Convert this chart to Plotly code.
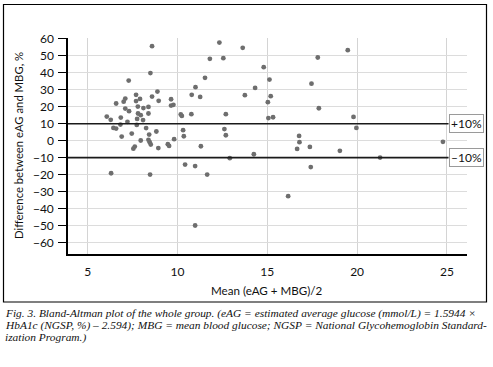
import plotly.graph_objects as go

# Bland-Altman data: mean (eAG + MBG)/2 and difference (%)
mean_vals = [
    6.06, 6.28, 6.30, 6.58, 6.43, 6.58, 6.82, 6.84, 6.89, 7.00,
    7.09, 7.09, 7.21, 7.28, 7.30, 7.45, 7.54, 7.62, 7.69, 7.69,
    7.73, 7.75, 7.79, 7.80, 7.91, 7.95, 7.95, 8.08, 8.10, 8.25,
    8.38, 8.38, 8.42, 8.38, 8.45, 8.51, 8.47, 8.49, 8.58, 8.58,
    8.82, 8.88, 8.93, 8.95, 9.46, 9.53, 9.64, 9.64, 9.77, 9.81,
    10.18, 10.24, 10.31, 10.35, 10.42, 10.77, 10.79, 10.98, 10.98, 11.00,
    11.26, 11.30, 11.53, 11.65, 11.80, 12.33, 12.55, 12.61, 12.69, 12.69,
    12.91, 13.63, 13.75, 14.25, 14.32, 14.80, 15.03, 15.06, 15.12, 15.19,
    15.32, 16.16, 16.66, 16.77, 16.79, 17.37, 17.42, 17.46, 17.81, 17.87,
    19.04, 19.48, 19.80, 19.96, 21.28, 24.78,
]
diff_vals = [
    14.2, 12.3, -19.2, 21.9, 7.5, 7.1, 9.5, 13.6, 2.4, 23.0,
    24.8, 18.9, 11.1, 35.4, 17.4, 4.2, -4.7, -3.5, 27.0, 23.3,
    9.3, 12.8, 20.1, 16.0, 24.6, 15.0, 0.1, 12.1, 19.2, 7.4,
    19.9, 16.0, 3.6, 0.5, -0.9, -2.3, -20.0, 39.8, 55.7, 26.0,
    5.4, 28.9, -4.4, 23.5, -2.1, -3.1, 24.4, 20.7, 21.1, 0.9,
    15.4, 14.6, 6.2, 2.6, -14.1, 15.6, 27.0, -15.0, -50.0, 31.5,
    25.8, -3.3, 37.0, -20.0, 48.2, 57.8, 48.6, 6.8, 15.6, 3.2,
    -10.3, 54.7, 26.8, -8.0, 31.1, 43.3, 22.7, 13.3, 36.0, 26.2,
    13.8, -32.7, -4.9, 2.8, -0.9, -3.7, -15.6, 33.6, 49.0, 19.1,
    -6.0, 53.3, 14.0, 7.5, -10.0, -0.7,
]

limit_values = [10, -10]
limit_labels = ["+10%", "\u201310%"]
x_ticks = [5, 10, 15, 20, 25]
y_ticks = [60, 50, 40, 30, 20, 10, 0, -10, -20, -30, -40, -50, -60]

x_title = "Mean (eAG + MBG)/2"
y_title = "Difference between eAG and MBG, %"
caption_lines = [
    "Fig. 3. Bland-Altman plot of the whole group. (eAG = estimated average glucose (mmol/L) = 1.5944 \u00d7",
    "HbA1c (NGSP, %) \u2013 2.594); MBG = mean blood glucose; NGSP = National Glycohemoglobin Standard-",
    "ization Program.)",
]

FONT = "Lato"
W, H = 493, 367
L, R, T, B = 68, 26, 38, 113
pw, ph = W - L - R, H - T - B


def px(xp):
    return (xp - L) / pw


def py(yp):
    return (H - B - yp) / ph


fig = go.Figure()
fig.add_trace(go.Scatter(
    x=mean_vals, y=diff_vals, mode="markers",
    marker=dict(color="#6e6e6e", size=4.8),
    hoverinfo="skip", showlegend=False,
))

shapes = []
annotations = []
for v, lab in zip(limit_values, limit_labels):
    shapes.append(dict(type="line", xref="paper", yref="y",
                       x0=0, x1=px(448.5), y0=v, y1=v,
                       line=dict(color="#1a1a1a", width=1.6)))
    annotations.append(dict(xref="paper", yref="y", x=px(449), y=v,
                            xanchor="left", yanchor="middle", text=lab,
                            showarrow=False,
                            font=dict(family=FONT, size=12, color="#111"),
                            bordercolor="#9a9a9a", borderwidth=1, borderpad=1,
                            bgcolor="white"))

# outer frame
shapes.append(dict(type="rect", xref="paper", yref="paper",
                   x0=px(3.5), x1=px(486.5), y0=py(4.5), y1=py(302),
                   line=dict(color="black", width=1.2), layer="below"))

annotations.append(dict(xref="paper", yref="paper", x=px(267), y=py(290),
                        text=x_title, showarrow=False, xanchor="center", yanchor="middle",
                        font=dict(family=FONT, size=11.6, color="#111")))
annotations.append(dict(xref="paper", yref="paper", x=px(18), y=py(146),
                        text=y_title, showarrow=False, textangle=-90,
                        xanchor="center", yanchor="middle",
                        font=dict(family=FONT, size=11.3, color="#111")))
for i, line in enumerate(caption_lines):
    annotations.append(dict(xref="paper", yref="paper", x=px(3), y=py(313.5 + 12.2 * i),
                            text="<i>" + line + "</i>", showarrow=False,
                            xanchor="left", yanchor="middle",
                            font=dict(family="Liberation Serif", size=11.4, color="#111")))

fig.update_layout(
    width=W, height=H,
    margin=dict(l=L, r=R, t=T, b=B, pad=0),
    paper_bgcolor="white", plot_bgcolor="white",
    shapes=shapes, annotations=annotations,
    font=dict(family=FONT, size=12, color="#111"),
    xaxis=dict(range=[3.9, 26.12], tickvals=x_ticks, showgrid=True,
               gridcolor="#d4d4d4", gridwidth=1, zeroline=False,
               showline=True, linecolor="black", linewidth=1.5,
               ticks="", ticklabelstandoff=6,
               tickfont=dict(family=FONT, size=12, color="#111")),
    yaxis=dict(range=[-66.8, 60.5], tickvals=y_ticks, showgrid=True,
               gridcolor="#dcdcdc", gridwidth=1, zeroline=False,
               showline=True, linecolor="black", linewidth=1.5,
               ticks="outside", ticklen=8, tickcolor="black", tickwidth=1.2,
               ticklabelstandoff=2,
               tickfont=dict(family=FONT, size=12, color="#111")),
)

fig.write_html("out.html", config={"displayModeBar": False},
               post_script="document.body.style.margin='0';document.body.style.overflow='hidden';")
